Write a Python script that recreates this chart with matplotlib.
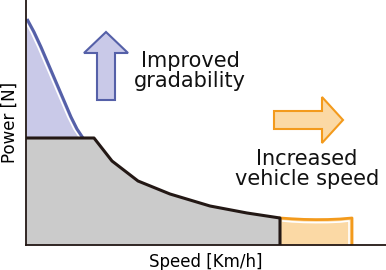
import numpy as np
import matplotlib.pyplot as plt
from matplotlib.patches import FancyArrow

# data in chart units (speed, power)
base_speed = [0, 68, 86, 112, 144, 184, 221, 254, 254]
base_power = [107, 107, 84, 64, 51, 39, 32, 27, 0]

grade_speed = [1, 8, 15, 21, 27, 33, 39, 45, 51, 57]
grade_power = [226, 213, 198, 184, 170, 156, 142, 128, 116, 107]

fast_speed = [254, 266, 278, 290, 302, 314, 326, 326]
fast_power = [27, 26.2, 25.6, 25.4, 25.5, 26.0, 27, 0]

blue = "#5560a8"
blue_fill = "#c9c9e8"
orange = "#f39a1c"
orange_fill = "#fbd9a5"
gray_fill = "#cbcbcb"

fig = plt.figure(figsize=(3.86, 2.70), dpi=100)
ax = fig.add_axes([26 / 386, 25 / 270, 360 / 386, 245 / 270])
ax.set_xlim(0, 360)
ax.set_ylim(0, 245)

# gray base area
ax.fill_between(base_speed[:-1], base_power[:-1], 0, color=gray_fill, lw=0)

# improved gradability (blue)
gs = np.array(grade_speed, float)
gp = np.array(grade_power, float)
ax.fill_between(np.r_[0, gs], np.r_[gp[0], gp], base_power[0], color=blue_fill, lw=0)
ax.plot(gs - 3, gp, color="white", lw=1.2)
ax.plot(gs, gp, color=blue, lw=2.2, solid_capstyle="butt")

# increased speed (orange)
fs = np.array(fast_speed, float)
fp = np.array(fast_power, float)
ax.fill_between(fs[:-1], fp[:-1], 0, color=orange_fill, lw=0)
ax.plot(np.r_[fs[0] + 3, fs[1:-2], fs[-2] - 3, fs[-2] - 3],
        np.r_[fp[0] - 3, fp[1:-2] - 3, fp[-2] - 3, 0], color="white", lw=1.2)
ax.plot(fs, fp, color=orange, lw=2)

ax.plot(base_speed, base_power, color="#231815", lw=2.2)

# arrows
ax.add_patch(FancyArrow(80, 145, 0, 68, width=18, head_width=44, head_length=21,
                        length_includes_head=True, fc=blue_fill, ec=blue, lw=1.5))
ax.add_patch(FancyArrow(248, 125, 69, 0, width=18, head_width=46, head_length=21,
                        length_includes_head=True, fc=orange_fill, ec=orange, lw=1.5))

ax.text(164, 174, "Improved\ngradability", ha="center", va="center",
        fontsize=15, linespacing=1.0, color="#111111")
ax.text(281, 76, "Increased\nvehicle speed", ha="center", va="center",
        fontsize=15, linespacing=1.0, color="#111111")

for s in ["top", "right"]:
    ax.spines[s].set_visible(False)
for s in ["left", "bottom"]:
    ax.spines[s].set_linewidth(1.3)
    ax.spines[s].set_color("#231815")
ax.set_xticks([])
ax.set_yticks([])
ax.set_xlabel("Speed [Km/h]", fontsize=12, labelpad=6)
ax.set_ylabel("Power [N]", fontsize=12, labelpad=5)

fig.savefig("out.png", dpi=100)
